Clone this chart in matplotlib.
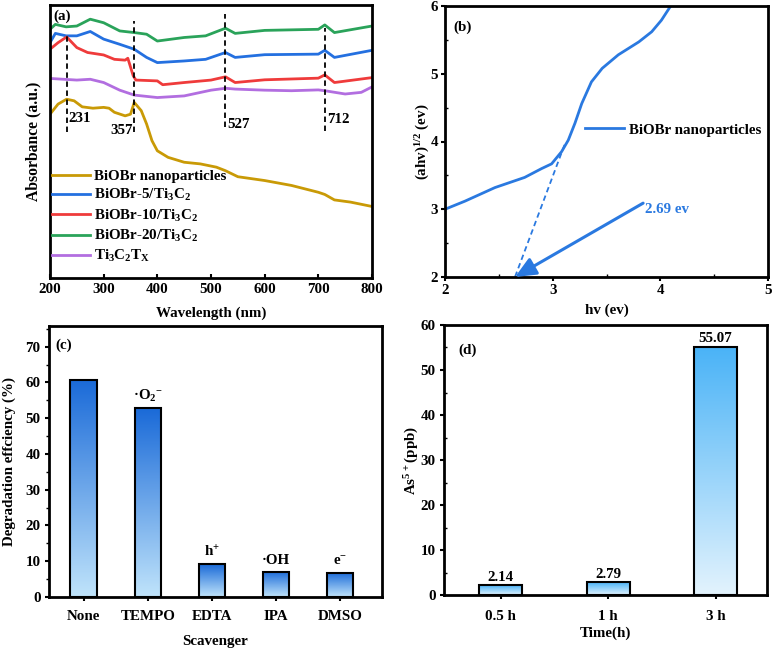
import numpy as np
import matplotlib
matplotlib.use("Agg")
import matplotlib.pyplot as plt
from matplotlib.colors import LinearSegmentedColormap

plt.rcParams['font.family'] = ['Liberation Serif', 'DejaVu Serif']
plt.rcParams['font.weight'] = 'bold'
plt.rcParams['axes.labelweight'] = 'bold'
plt.rcParams['mathtext.default'] = 'regular'
plt.rcParams['axes.linewidth'] = 2.0

# ---------------- data (a) ----------------
green_x = [200, 210, 230, 250, 275, 300, 330, 357, 380, 400, 450, 490, 527, 545, 600, 700, 712, 730, 800]
green_y = [91.1, 92.9, 92.0, 92.3, 94.8, 93.5, 90.5, 89.9, 89.3, 86.8, 88.1, 88.7, 91.5, 89.6, 90.7, 91.1, 92.7, 89.9, 92.3]
blue_x = [200, 210, 230, 250, 275, 300, 330, 357, 380, 400, 450, 490, 527, 545, 600, 700, 712, 730, 800]
blue_y = [86.2, 89.6, 88.7, 88.7, 90.3, 87.5, 85.6, 83.8, 80.8, 78.9, 79.5, 80.1, 82.6, 80.8, 81.8, 82.0, 83.4, 80.8, 83.4]
red_x = [200, 215, 231, 250, 270, 300, 320, 340, 345, 355, 360, 400, 410, 450, 500, 527, 545, 600, 700, 712, 730, 800]
red_y = [83.8, 86.2, 88.3, 84.4, 82.6, 81.7, 80.1, 79.8, 80.5, 74.1, 72.5, 72.2, 70.8, 71.6, 72.5, 73.7, 71.6, 72.6, 73.2, 74.4, 71.6, 73.4]
purple_x = [200, 250, 275, 300, 330, 357, 400, 450, 500, 527, 545, 600, 650, 700, 712, 750, 780, 800]
purple_y = [73.1, 72.5, 72.8, 71.6, 68.8, 67.0, 66.1, 66.7, 68.8, 69.5, 69.2, 68.8, 68.6, 68.9, 68.6, 67.4, 68.0, 70.0]
gold_x = [200, 215, 231, 245, 260, 280, 300, 310, 320, 340, 350, 357, 370, 380, 390, 400, 420, 450, 480, 510, 527, 550, 600, 650, 700, 712, 730, 760, 800]
gold_y = [60.0, 63.7, 65.5, 64.9, 62.7, 62.2, 62.5, 62.2, 60.7, 59.4, 60.0, 64.3, 61.3, 56.4, 50.3, 46.6, 44.2, 42.4, 41.8, 40.6, 39.3, 37.1, 35.7, 33.9, 31.4, 30.6, 28.6, 27.8, 26.2]
peak_pos = [231, 357, 527, 712]
peak_top = [89.3, 94.1, 96.6, 91.7]
peak_bot = [53.3, 53.3, 55.2, 53.7]
series_names = ['BiOBr nanoparticles', 'BiOBr-5/Ti$_3$C$_2$', 'BiOBr-10/Ti$_3$C$_2$',
                'BiOBr-20/Ti$_3$C$_2$', 'Ti$_3$C$_2$T$_X$']

# ---------------- data (b) ----------------
tauc_x = [2.0, 2.186, 2.464, 2.74, 2.897, 2.99, 3.083, 3.145, 3.207, 3.27, 3.36, 3.46, 3.61, 3.8, 3.92, 4.01, 4.10]
tauc_y = [3.0, 3.12, 3.32, 3.47, 3.6, 3.67, 3.85, 4.02, 4.27, 4.56, 4.88, 5.08, 5.28, 5.47, 5.62, 5.79, 6.01]
tangent_x = [3.11, 2.65]
tangent_y = [3.95, 2.0]
band_gap_label = '2.69 ev'

# ---------------- data (c) ----------------
scav = ['None', 'TEMPO', 'EDTA', 'IPA', 'DMSO']
deg = [60.8, 52.8, 9.1, 7.1, 6.8]
species = ['', '·O$_2$$^{-}$', 'h$^{+}$', '·OH', 'e$^{-}$']

# ---------------- data (d) ----------------
times = ['0.5 h', '1 h', '3 h']
arsenic = [2.14, 2.79, 55.07]

fig = plt.figure(figsize=(7.74, 6.48), dpi=100)
W, H = 774, 648
def ax_at(l, t, r, b):
    return fig.add_axes([l / W, 1 - b / H, (r - l) / W, (b - t) / H])

FS = 10.8

# ---------------- panel (a) ----------------
axa = ax_at(50, 5, 372, 278)
cols = ['#c99a06', '#2470e0', '#ef3b3b', '#2aa35a', '#b26ee0']
data_a = [(gold_x, gold_y), (blue_x, blue_y), (red_x, red_y), (green_x, green_y), (purple_x, purple_y)]
for (xs, ys), c, n in zip(data_a, cols, series_names):
    axa.plot(xs, ys, color=c, lw=2.0, label=n)
for p, t, b in zip(peak_pos, peak_top, peak_bot):
    axa.plot([p, p], [b, t], color='black', lw=1.3, ls=(0, (3, 2)))
axa.text(234, 58.5, '231', fontsize=FS, fontweight='bold', ha='left', va='center')
axa.text(355, 54.2, '357', fontsize=FS, fontweight='bold', ha='right', va='center')
axa.text(531, 56.2, '527', fontsize=FS, fontweight='bold', ha='left', va='center')
axa.text(716, 58.0, '712', fontsize=FS, fontweight='bold', ha='left', va='center')
axa.text(0.01, 0.985, '(a)', transform=axa.transAxes, fontsize=FS, fontweight='bold', ha='left', va='top')
axa.set_xlim(200, 800)
axa.set_ylim(0, 100)
axa.set_yticks([])
axa.set_xticks([200, 300, 400, 500, 600, 700, 800])
axa.tick_params(axis='x', direction='in', length=3, width=1.5, labelsize=FS)
axa.set_xlabel('Wavelength (nm)', fontsize=FS, fontweight='bold', labelpad=8)
axa.set_ylabel('Absorbance (a.u.)', fontsize=FS + 0.5, fontweight='bold', labelpad=6)
leg = axa.legend(loc='lower left', frameon=False, fontsize=FS, handlelength=2.5,
                 borderaxespad=0.0, borderpad=0.15, labelspacing=0.28, handletextpad=0.3,
                 bbox_to_anchor=(0.0, 0.042))
for t in leg.get_texts():
    t.set_fontweight('bold')

# ---------------- panel (b) ----------------
axb = ax_at(445, 6, 768, 277)
bc = '#2a79e0'
axb.plot(tauc_x, tauc_y, color=bc, lw=2.0, label='BiOBr nanoparticles')
axb.plot(tangent_x, tangent_y, color=bc, lw=1.3, ls=(0, (3, 2)))
axb.annotate('', xy=(2.65, 2.0), xytext=(3.84, 3.09),
             arrowprops=dict(arrowstyle='-|>,head_length=0.9,head_width=0.4', color=bc, lw=2.2,
                             shrinkA=0, shrinkB=0, mutation_scale=14))
axb.text(3.86, 3.0, band_gap_label, color=bc, fontsize=FS, fontweight='bold', ha='left', va='center')
axb.text(0.025, 0.92, '(b)', transform=axb.transAxes, fontsize=FS, fontweight='bold', ha='left', va='center')
axb.set_xlim(2, 5)
axb.set_ylim(2, 6)
axb.set_xticks([2, 3, 4, 5])
axb.set_yticks([2, 3, 4, 5, 6])
axb.set_xticks([2.5, 3.5, 4.5], minor=True)
axb.set_yticks([2.5, 3.5, 4.5, 5.5], minor=True)
axb.tick_params(which='major', direction='out', length=3, width=1.5, labelsize=FS, pad=2)
axb.tick_params(which='minor', direction='in', length=2, width=1.0)
axb.set_xlabel('hv (ev)', fontsize=FS, fontweight='bold', labelpad=5)
axb.set_ylabel('(ahv)$^{1/2}$ (ev)', fontsize=FS, fontweight='bold', labelpad=-1)
legb = axb.legend(loc='upper left', bbox_to_anchor=(0.415, 0.59), frameon=False, fontsize=FS,
                  handlelength=2.6, handletextpad=0.3, borderaxespad=0)
for t in legb.get_texts():
    t.set_fontweight('bold')

def gradient_bars(ax, xs, hs, width, ctop, cbot):
    cmap = LinearSegmentedColormap.from_list('g', [cbot, ctop])
    grad = np.linspace(0, 1, 256).reshape(-1, 1)
    bars = ax.bar(xs, hs, width=width, facecolor='none', edgecolor='black', lw=1.5, zorder=3)
    for bar in bars:
        x0 = bar.get_x(); w = bar.get_width(); h = bar.get_height()
        im = ax.imshow(grad, extent=[x0, x0 + w, 0, h], origin='lower', aspect='auto',
                       cmap=cmap, zorder=2)
        im.set_clip_path(bar)
    return bars

# ---------------- panel (c) ----------------
axc = ax_at(49, 326, 382, 597)
xc = np.arange(len(scav))
gradient_bars(axc, xc, deg, 0.41, '#1a6ad8', '#c0e4fb')
for x, h, s in zip(xc, deg, species):
    if s:
        axc.text(x, h + 1.3, s, ha='center', va='bottom', fontsize=FS, fontweight='bold')
axc.text(0.018, 0.93, '(c)', transform=axc.transAxes, fontsize=FS, fontweight='bold', ha='left', va='center')
axc.set_xlim(-0.54, 4.65)
axc.set_ylim(0, 75.8)
axc.set_xticks(xc)
axc.set_xticklabels(scav)
axc.set_yticks(np.arange(0, 71, 10))
axc.set_yticks(np.arange(5, 76, 10), minor=True)
axc.tick_params(which='major', direction='out', length=3, width=1.5, labelsize=FS, pad=3)
axc.tick_params(axis='x', pad=6)
axc.tick_params(which='minor', direction='out', length=2, width=1.0)
axc.set_xlabel('Scavenger', fontsize=FS, fontweight='bold', labelpad=9)
axc.set_ylabel('Degradation effciency (%)', fontsize=FS, fontweight='bold', labelpad=7)

# ---------------- panel (d) ----------------
axd = ax_at(444, 325, 767, 595)
xd = np.arange(len(times))
gradient_bars(axd, xd, arsenic, 0.40, '#4ab3f7', '#e3f3fd')
for x, h in zip(xd, arsenic):
    axd.text(x, h + 0.4, f'{h:.2f}', ha='center', va='bottom', fontsize=FS, fontweight='bold')
axd.text(0.043, 0.905, '(d)', transform=axd.transAxes, fontsize=FS, fontweight='bold', ha='left', va='center')
axd.set_xlim(-0.527, 2.478)
axd.set_ylim(0, 60)
axd.set_xticks(xd)
axd.set_xticklabels(times)
axd.set_yticks(np.arange(0, 61, 10))
axd.set_yticks(np.arange(5, 60, 10), minor=True)
axd.tick_params(which='major', direction='out', length=3, width=1.5, labelsize=FS, pad=3)
axd.tick_params(axis='x', pad=8)
axd.tick_params(which='minor', direction='in', length=2, width=1.0)
axd.set_xlabel('Time(h)', fontsize=FS, fontweight='bold', labelpad=2)
axd.set_ylabel('As$^{5+}$(ppb)', fontsize=FS, fontweight='bold', labelpad=0)

fig.savefig('out.png', dpi=100)
